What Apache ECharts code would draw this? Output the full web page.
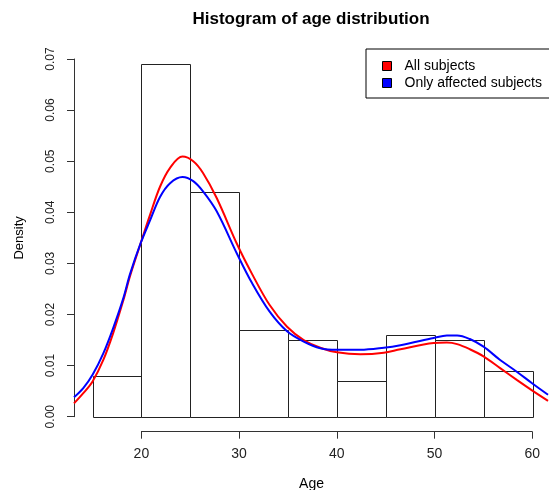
<!DOCTYPE html>
<html>
<head>
<meta charset="utf-8">
<script src="https://cdn.jsdelivr.net/npm/echarts@6/dist/echarts.min.js"></script>
<style>
  html, body { margin: 0; padding: 0; background: #fff; }
  #chart { width: 549px; height: 490px; }
</style>
</head>
<body>
<div id="chart"></div>
<script>
// histogram bins (age ranges) and densities
var binStart = [15, 20, 25, 30, 35, 40, 45, 50, 55]
var binEnd = [20, 25, 30, 35, 40, 45, 50, 55, 60]
var binDensity = [0.008, 0.069, 0.044, 0.017, 0.015, 0.007, 0.016, 0.015, 0.009]

// density curves
var curveAge = [13.1, 14.05, 15, 16.1, 17.1, 18.15, 18.83, 19.93, 20.88, 21.9, 22.93, 24.2, 25.3, 26.3, 27.7, 29.8,
  31.3, 33.1, 34.9, 36.6, 38.3, 40, 42.4, 44.8, 46.5, 49.9, 51.25, 52.3, 53.6, 55, 56.7, 58.4, 60, 61.6]
var allDensity = [0.0026, 0.0046, 0.0069, 0.0111, 0.0163, 0.0228, 0.0275, 0.0340, 0.0395, 0.0450, 0.0487, 0.0509,
  0.0500, 0.0477, 0.0428, 0.0337, 0.0280, 0.0219, 0.0176, 0.0150, 0.0135, 0.0126, 0.0122, 0.0125, 0.0132, 0.0144,
  0.0145, 0.0142, 0.0132, 0.0118, 0.0095, 0.0072, 0.0051, 0.0031]
var affectedDensity = [0.0038, 0.0056, 0.0082, 0.0124, 0.0173, 0.0232, 0.0279, 0.0340, 0.0384, 0.0430, 0.0457, 0.0469,
  0.0461, 0.0441, 0.0402, 0.0318, 0.0262, 0.0206, 0.0167, 0.0147, 0.0134, 0.0131, 0.0131, 0.0135, 0.0140, 0.0154,
  0.0159, 0.0159, 0.0152, 0.0137, 0.0111, 0.0088, 0.0065, 0.0043]

var xTicks = [20, 30, 40, 50, 60]

var bins = binStart.map(function (s, i) { return [s, binEnd[i], binDensity[i]] })
var allLine = curveAge.map(function (a, i) { return [a, allDensity[i]] })
var affLine = curveAge.map(function (a, i) { return [a, affectedDensity[i]] })

var font = 'Liberation Sans, Arial, sans-serif'
var chart = echarts.init(document.getElementById('chart'))

var option = {
  animation: false,
  title: {
    text: 'Histogram of age distribution',
    left: 311,
    top: 11,
    textAlign: 'center',
    padding: 0,
    textStyle: { fontFamily: font, fontSize: 17, fontWeight: 'bold', color: '#000' }
  },
  legend: {
    data: ['All subjects', 'Only affected subjects'],
    orient: 'vertical',
    left: 366,
    top: 49,
    icon: 'rect',
    itemWidth: 9,
    itemHeight: 9,
    itemGap: 3,
    padding: [10, 20, 8, 16],
    borderColor: '#000',
    borderWidth: 1,
    itemStyle: { borderColor: '#000', borderWidth: 1 },
    textStyle: { fontFamily: font, fontSize: 14, color: '#000', padding: [0, 0, 0, 8] }
  },
  grid: [
    { left: 74, right: 0, top: 59, bottom: 73.3, outerBoundsMode: 'none' },
    { left: 141.4, right: 16.8, top: 430.7, height: 1, outerBoundsMode: 'none' }
  ],
  xAxis: [
    {
      gridIndex: 0, type: 'value', min: 13.1, max: 61.7,
      name: 'Age', nameLocation: 'middle', nameGap: 60,
      nameTextStyle: { fontFamily: font, fontSize: 14, color: '#000' },
      axisLine: { show: false }, axisTick: { show: false }, axisLabel: { show: false }, splitLine: { show: false }
    },
    {
      gridIndex: 1, type: 'value', min: 20, max: 60, interval: 10, position: 'bottom',
      axisLine: { show: true, lineStyle: { color: '#333', width: 1 } },
      axisTick: { show: true, length: 7, lineStyle: { color: '#333' }, customValues: xTicks },
      axisLabel: { margin: 15, fontFamily: font, fontSize: 14, color: '#222', customValues: xTicks },
      splitLine: { show: false }
    }
  ],
  yAxis: [
    {
      gridIndex: 0, type: 'value', min: 0, max: 0.07, interval: 0.01,
      name: 'Density', nameLocation: 'middle', nameGap: 48, nameRotate: 90,
      nameTextStyle: { fontFamily: font, fontSize: 13, color: '#000' },
      axisLine: { show: true, lineStyle: { color: '#333', width: 1 } },
      axisTick: { show: true, length: 7, lineStyle: { color: '#333' } },
      axisLabel: {
        rotate: 90, margin: 17, fontFamily: font, fontSize: 12, color: '#222',
        formatter: function (v) { return v.toFixed(2) }
      },
      splitLine: { show: false }
    },
    { gridIndex: 1, type: 'value', show: false }
  ],
  series: [
    {
      name: 'hist',
      type: 'custom',
      xAxisIndex: 0, yAxisIndex: 0,
      data: bins,
      renderItem: function (params, api) {
        var p0 = api.coord([api.value(0), api.value(2)])
        var p1 = api.coord([api.value(1), 0])
        return {
          type: 'rect',
          shape: { x: Math.round(p0[0]) + 0.5, y: Math.round(p0[1]) + 0.5, width: Math.round(p1[0] - p0[0]), height: Math.round(p1[1] - p0[1]) },
          style: { fill: '#fff', stroke: '#222', lineWidth: 1 }
        }
      },
      z: 1
    },
    {
      name: 'All subjects',
      type: 'line',
      xAxisIndex: 0, yAxisIndex: 0,
      data: allLine,
      smooth: 0.35,
      showSymbol: false,
      itemStyle: { color: '#ff0000' },
      lineStyle: { color: '#ff0000', width: 2 },
      z: 3
    },
    {
      name: 'Only affected subjects',
      type: 'line',
      xAxisIndex: 0, yAxisIndex: 0,
      data: affLine,
      smooth: 0.35,
      showSymbol: false,
      itemStyle: { color: '#0000ff' },
      lineStyle: { color: '#0000ff', width: 2 },
      z: 4
    }
  ]
}
option && chart.setOption(option)
</script>
</body>
</html>
